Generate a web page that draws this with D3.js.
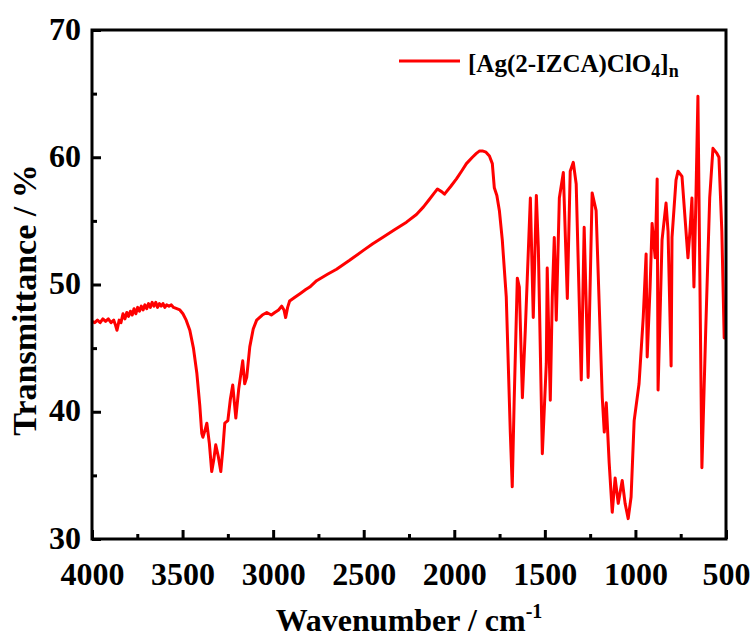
<!DOCTYPE html>
<html>
<head>
<meta charset="utf-8">
<script src="https://cdn.jsdelivr.net/npm/d3@7"></script>
<style>
  html, body { margin: 0; padding: 0; background: #fff; }
  svg { display: block; }
  text { font-family: "Liberation Serif", "Times New Roman", serif; font-weight: bold; fill: #000; }
</style>
</head>
<body>
<svg id="chart" width="755" height="642"></svg>
<script>
// ---- data ----
const wavenumber = [
  4000, 3985, 3970, 3955, 3940, 3925, 3910, 3895, 3880, 3870, 3862, 3850, 3840, 3829, 3818, 3808, 3798, 3788,
  3778, 3768, 3758, 3748, 3738, 3728, 3718, 3708, 3698, 3688, 3678, 3668, 3658, 3648, 3638, 3628, 3618, 3608,
  3598, 3588, 3575, 3562, 3550, 3532, 3515, 3498, 3480, 3460, 3440, 3421, 3405, 3394, 3388, 3375, 3366, 3352,
  3339, 3328, 3317, 3303, 3289, 3278, 3267, 3250, 3236, 3223, 3206, 3190, 3168, 3157, 3146, 3129, 3110, 3091,
  3060, 3035, 3010, 2991, 2970, 2953, 2940, 2931, 2920, 2909, 2880, 2850, 2820, 2798, 2760, 2700, 2650, 2578,
  2500, 2450, 2396, 2330, 2264, 2209, 2170, 2137, 2110, 2093, 2070, 2054, 2020, 1988, 1960, 1933, 1900, 1878,
  1860, 1845, 1825, 1806, 1790, 1779, 1765, 1751, 1735, 1713, 1691, 1680, 1669, 1652, 1641, 1624, 1608, 1597,
  1580, 1564, 1547, 1536, 1514, 1492, 1487, 1470, 1459, 1448, 1437, 1420, 1398, 1376, 1360, 1343, 1327, 1299,
  1283, 1261, 1239, 1217, 1183, 1172, 1161, 1145, 1128, 1112, 1095, 1073, 1057, 1040, 1024, 1007, 980, 957,
  941, 935, 919, 908, 891, 880, 875, 853, 831, 820, 803, 798, 776, 765, 743, 710, 699, 688,
  677, 666, 655, 633, 612, 590, 572, 550, 539, 523, 510, 502
];
const transmittance = [
  47.1, 47.0, 47.2, 47.0, 47.3, 47.1, 47.3, 47.0, 47.2, 46.8, 46.4, 47.2, 47.0, 47.7, 47.3, 47.8, 47.5, 47.9,
  47.6, 48.1, 47.7, 48.2, 47.9, 48.3, 48.0, 48.4, 48.1, 48.5, 48.2, 48.6, 48.3, 48.6, 48.2, 48.5, 48.3, 48.5,
  48.2, 48.4, 48.3, 48.4, 48.2, 48.1, 48.0, 47.7, 47.2, 46.4, 45.0, 43.0, 40.5, 38.3, 38.0, 38.6, 39.1, 37.5,
  35.3, 36.2, 37.4, 36.5, 35.3, 37.0, 39.1, 39.3, 41.0, 42.1, 39.5, 41.8, 44.0, 42.2, 42.7, 45.1, 46.5, 47.2,
  47.6, 47.8, 47.6, 47.8, 48.0, 48.3, 48.0, 47.4, 48.2, 48.7, 49.0, 49.3, 49.6, 49.8, 50.3, 50.8, 51.2, 51.9,
  52.7, 53.2, 53.7, 54.3, 54.9, 55.5, 56.1, 56.7, 57.2, 57.5, 57.3, 57.1, 57.7, 58.3, 58.9, 59.5, 60.0, 60.3,
  60.5, 60.5, 60.4, 60.1, 59.5, 57.6, 57.0, 55.8, 53.5, 49.0, 38.5, 34.1, 41.1, 50.5, 49.8, 41.1, 46.4, 50.5,
  56.8, 47.4, 57.0, 52.9, 36.7, 43.8, 51.3, 40.9, 49.0, 53.7, 47.2, 56.8, 58.8, 48.9, 58.9, 59.6, 57.9, 42.5,
  54.5, 42.7, 57.2, 55.8, 41.1, 38.4, 40.7, 36.0, 32.1, 34.8, 32.8, 34.6, 32.8, 31.6, 33.3, 39.3, 42.2, 47.4,
  52.4, 44.3, 49.8, 54.8, 52.1, 58.3, 41.7, 53.5, 56.4, 54.2, 43.6, 53.7, 58.2, 58.9, 58.5, 52.1, 54.2, 56.8,
  49.8, 56.8, 64.8, 35.6, 46.4, 56.8, 60.7, 60.3, 60.0, 54.2, 45.8, 45.8
];
const xTicks = [4000, 3500, 3000, 2500, 2000, 1500, 1000, 500];
const xMinorTicks = [3750, 3250, 2750, 2250, 1750, 1250, 750];
const yTicks = [30, 40, 50, 60, 70];
const yMinorTicks = [35, 45, 55, 65];
const seriesName = "[Ag(2-IZCA)ClO4]n";
const xTitle = "Wavenumber / cm-1";
const yTitle = "Transmittance / %";

// ---- layout ----
const svg = d3.select("#chart");
const L = 92, R = 726, T = 30, B = 539;
const x = d3.scaleLinear().domain([4000, 500]).range([L, R]);
const y = d3.scaleLinear().domain([30, 70]).range([B, T]);
const red = "#ff0000";

// spectrum line
const pts = wavenumber.map((w, i) => [w, transmittance[i]]);
svg.append("path")
  .datum(pts)
  .attr("fill", "none")
  .attr("stroke", red)
  .attr("stroke-width", 3)
  .attr("stroke-linejoin", "round")
  .attr("d", d3.line().x(d => x(d[0])).y(d => y(d[1])));

// frame
svg.append("rect")
  .attr("x", L).attr("y", T)
  .attr("width", R - L).attr("height", B - T)
  .attr("fill", "none").attr("stroke", "#000").attr("stroke-width", 3);

// x axis (ticks inward)
const gx = svg.append("g").attr("transform", `translate(0,${B})`)
  .call(d3.axisBottom(x).tickValues(xTicks).tickSize(-9).tickPadding(0).tickFormat(d3.format("d")));
gx.select(".domain").remove();
gx.selectAll(".tick line").attr("stroke", "#000").attr("stroke-width", 3);
gx.selectAll(".tick text").attr("font-size", 32).attr("dy", null).attr("y", 46)
  .style("font-family", "'Liberation Serif', serif").style("font-weight", "bold");
const gxm = svg.append("g").attr("transform", `translate(0,${B})`)
  .call(d3.axisBottom(x).tickValues(xMinorTicks).tickSize(-5).tickFormat(""));
gxm.select(".domain").remove();
gxm.selectAll(".tick line").attr("stroke", "#000").attr("stroke-width", 3);

// y axis (ticks inward)
const gy = svg.append("g").attr("transform", `translate(${L},0)`)
  .call(d3.axisLeft(y).tickValues(yTicks).tickSize(-9).tickPadding(0).tickFormat(d3.format("d")));
gy.select(".domain").remove();
gy.selectAll(".tick line").attr("stroke", "#000").attr("stroke-width", 3);
gy.selectAll(".tick text").attr("font-size", 32).attr("x", -11).attr("dy", 9)
  .style("font-family", "'Liberation Serif', serif").style("font-weight", "bold");
const gym = svg.append("g").attr("transform", `translate(${L},0)`)
  .call(d3.axisLeft(y).tickValues(yMinorTicks).tickSize(-5).tickFormat(""));
gym.select(".domain").remove();
gym.selectAll(".tick line").attr("stroke", "#000").attr("stroke-width", 3);

// axis titles
const xt = svg.append("text").attr("x", (L + R) / 2).attr("y", 631)
  .attr("text-anchor", "middle").attr("font-size", 32);
xt.append("tspan").text(xTitle.slice(0, -2));
xt.append("tspan").attr("font-size", 20).attr("dy", -13).text(xTitle.slice(-2));

svg.append("text")
  .attr("transform", "translate(36,300) rotate(-90)")
  .attr("text-anchor", "middle").attr("font-size", 34)
  .text(yTitle);

// legend
svg.append("line").attr("x1", 399).attr("x2", 460).attr("y1", 61).attr("y2", 61)
  .attr("stroke", red).attr("stroke-width", 3);
const lt = svg.append("text").attr("x", 468).attr("y", 72).attr("font-size", 25);
lt.append("tspan").text(seriesName.slice(0, 14));
lt.append("tspan").attr("font-size", 18).attr("dy", 5).text(seriesName.slice(14, 15));
lt.append("tspan").attr("dy", -5).text(seriesName.slice(15, 16));
lt.append("tspan").attr("font-size", 18).attr("dy", 5).text(seriesName.slice(16));
</script>
</body>
</html>
